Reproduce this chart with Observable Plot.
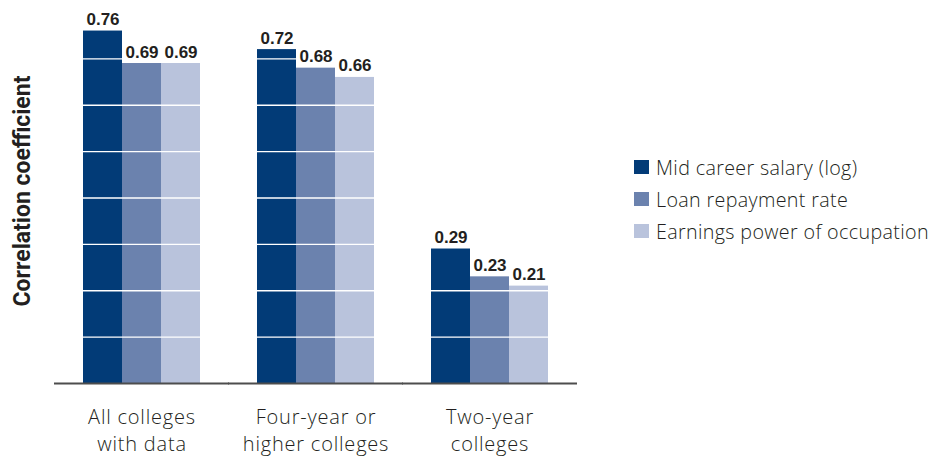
<!DOCTYPE html>
<html>
<head>
<meta charset="utf-8">
<script src="https://cdn.jsdelivr.net/npm/d3@7"></script>
<script src="https://cdn.jsdelivr.net/npm/@observablehq/plot@0.6"></script>
<style>
  html, body { margin: 0; padding: 0; background: #fff; }
  #wrap { position: relative; width: 942px; height: 457px; overflow: hidden; }
  #chart { position: absolute; left: 0; top: 0; }
  #ylabel {
    position: absolute; left: 22px; top: 191px;
    transform: translate(-50%, -50%) rotate(-90deg);
    white-space: nowrap;
    font-family: Roboto, sans-serif; font-weight: 700; font-size: 23px; color: #231f20;
  }
  #legend { position: absolute; left: 634px; top: 151px; font-family: "Open Sans", sans-serif; font-weight: 300; font-size: 19.7px; letter-spacing: 0.35px; color: #231f20; }
  .item { display: flex; align-items: center; height: 32px; }
  .sw { width: 15px; height: 14px; margin-right: 7px; flex: none; }
</style>
</head>
<body>
<div id="wrap">
  <div id="chart"></div>
  <div id="ylabel"></div>
  <div id="legend"></div>
</div>
<script>
const groups = ["All colleges\nwith data", "Four-year or\nhigher colleges", "Two-year\ncolleges"];
const series = ["Mid career salary (log)", "Loan repayment rate", "Earnings power of occupation"];
const colors = ["#023b77", "#6b82ae", "#b9c3dc"];
const midCareer = [0.76, 0.72, 0.29];
const loanRepay = [0.69, 0.68, 0.23];
const earnings = [0.69, 0.66, 0.21];
const gridTicks = [0.1, 0.2, 0.3, 0.4, 0.5, 0.6, 0.7];
const yTitle = "Correlation coefficient";

const seriesValues = [midCareer, loanRepay, earnings];
const data = [];
groups.forEach((g, gi) => series.forEach((s, si) => data.push({group: g, series: s, value: seriesValues[si][gi]})));

const chart = Plot.plot({
  width: 600,
  height: 457,
  marginLeft: 53,
  marginRight: 23,
  marginTop: 12,
  marginBottom: 74,
  fx: {domain: groups, paddingInner: 0.33, paddingOuter: 0.166, axis: null, label: null},
  x: {domain: series, padding: 0, axis: null},
  y: {domain: [0, 0.8], axis: null},
  color: {domain: series, range: colors},
  style: {background: "transparent"},
  marks: [
    Plot.barY(data, {fx: "group", x: "series", y: "value", fill: "series"}),
    Plot.ruleY(gridTicks, {stroke: "#ffffff", strokeWidth: 1.4}),
    Plot.ruleY([0], {stroke: "#4d4d4d", strokeWidth: 2, insetLeft: -29, insetRight: -29}),
    Plot.text(data, {fx: "group", x: "series", y: "value", text: d => d.value.toFixed(2),
      lineAnchor: "bottom", dy: -6, fontSize: 17, fontWeight: 700,
      fontFamily: "Liberation Sans, Arial, sans-serif", fill: "#231f20"}),
    Plot.text(groups, {fx: d => d, text: d => d, frameAnchor: "bottom", lineAnchor: "top",
      dy: 21, lineHeight: 1.36, fontSize: 20, fontWeight: 300, fontFamily: "Open Sans, sans-serif", fill: "#231f20"})
  ]
});
document.getElementById("chart").appendChild(chart);
d3.select(chart).selectAll('g[aria-label="text"]').filter((d, i) => i === 1)
  .selectAll("text").style("letter-spacing", "0.8px");
document.getElementById("ylabel").textContent = yTitle;

const legend = document.getElementById("legend");
series.forEach((s, i) => {
  const row = document.createElement("div");
  row.className = "item";
  const sw = document.createElement("span");
  sw.className = "sw";
  sw.style.background = colors[i];
  const t = document.createElement("span");
  t.textContent = s;
  row.appendChild(sw);
  row.appendChild(t);
  legend.appendChild(row);
});
</script>
</body>
</html>
